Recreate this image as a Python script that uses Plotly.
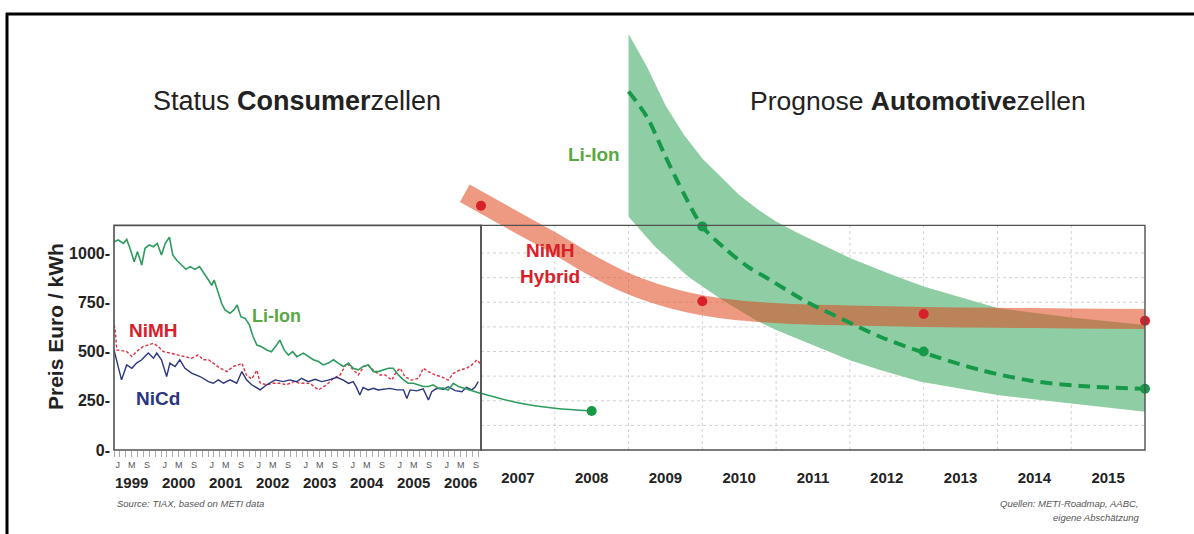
import plotly.graph_objects as go

W, H = 1194, 534          # target picture size
H_FIG = 543               # page height that the photograph squeezes into 534 rows

# ------------------------------------------------------------------ data
# Left panel: consumer cells, price Euro/kWh (decimal years)
years_left = [1999, 2000, 2001, 2002, 2003, 2004, 2005, 2006]
month_labels = ["J", "M", "S"]

liion_t = [1999.00, 1999.09, 1999.20, 1999.27, 1999.34, 1999.43, 1999.50, 1999.59, 1999.66, 1999.75, 1999.84, 1999.92,
           2000.01, 2000.09, 2000.18, 2000.25, 2000.33, 2000.44, 2000.53, 2000.62, 2000.72, 2000.82, 2000.90,
           2001.01, 2001.08, 2001.13, 2001.20, 2001.29, 2001.36, 2001.47, 2001.55, 2001.62, 2001.70, 2001.79, 2001.88, 2001.96,
           2002.04, 2002.14, 2002.25, 2002.35, 2002.46, 2002.53, 2002.62, 2002.71, 2002.80, 2002.89,
           2003.03, 2003.13, 2003.24, 2003.35, 2003.45, 2003.56, 2003.67, 2003.77, 2003.88, 2003.99,
           2004.09, 2004.20, 2004.30, 2004.41, 2004.52, 2004.62, 2004.73, 2004.84, 2004.94,
           2005.05, 2005.16, 2005.26, 2005.37, 2005.48, 2005.58, 2005.69, 2005.79, 2005.90,
           2006.01, 2006.11, 2006.22, 2006.33, 2006.43, 2006.54, 2006.65, 2006.79]
liion_v = [1057, 1066, 1049, 1069, 1024, 956, 1007, 939, 1024, 1041, 1032, 1049,
           990, 1049, 1080, 990, 964, 939, 917, 931, 917, 931, 905,
           863, 836, 863, 812, 745, 711, 694, 711, 736, 677, 668, 635, 575,
           533, 524, 508, 499, 533, 558, 508, 482, 499, 474,
           492, 475, 458, 449, 432, 441, 458, 441, 424, 441,
           415, 407, 424, 432, 398, 398, 407, 415, 415,
           381, 356, 339, 339, 331, 322, 322, 331, 314,
           314, 305, 339, 322, 314, 305, 297, 288]

nimh_t = [1999.00, 1999.02, 1999.06, 1999.27, 1999.38, 1999.48, 1999.62, 1999.73, 1999.84, 1999.94,
          2000.05, 2000.19, 2000.33, 2000.51, 2000.65, 2000.79, 2000.90,
          2001.01, 2001.11, 2001.26, 2001.40, 2001.54, 2001.65, 2001.72, 2001.82, 2001.93,
          2002.04, 2002.11, 2002.25, 2002.39, 2002.53, 2002.67, 2002.82, 2002.96,
          2003.17, 2003.35, 2003.52, 2003.67, 2003.81, 2003.95, 2004.06, 2004.20, 2004.31, 2004.41,
          2004.55, 2004.66, 2004.77, 2004.91, 2005.01, 2005.09, 2005.19, 2005.33, 2005.48, 2005.58,
          2005.69, 2005.83, 2005.97, 2006.11, 2006.22, 2006.36, 2006.50, 2006.61, 2006.72, 2006.79]
nimh_v = [636, 620, 508, 500, 475, 500, 525, 534, 542, 525,
          500, 492, 483, 475, 466, 483, 458,
          458, 441, 415, 398, 424, 432, 441, 380, 360,
          405, 340, 331, 339, 339, 331, 347, 339,
          338, 305, 330, 364, 381, 440, 415, 381, 423, 431,
          398, 381, 381, 355, 398, 415, 372, 355, 364, 415,
          398, 381, 372, 355, 389, 406, 415, 431, 457, 440]

nicd_t = [1999.00, 1999.16, 1999.27, 1999.38, 1999.48, 1999.59, 1999.73, 1999.84, 1999.91,
          2000.01, 2000.12, 2000.19, 2000.30, 2000.40, 2000.51, 2000.65, 2000.83,
          2001.01, 2001.11, 2001.22, 2001.33, 2001.47, 2001.61, 2001.72, 2001.82, 2001.93,
          2002.11, 2002.25, 2002.43, 2002.60, 2002.74, 2002.89,
          2002.99, 2003.13, 2003.28, 2003.42, 2003.56, 2003.74, 2003.88, 2003.99, 2004.09, 2004.16,
          2004.23, 2004.30, 2004.41, 2004.52, 2004.62, 2004.73, 2004.87, 2005.02, 2005.16, 2005.23,
          2005.30, 2005.44, 2005.58, 2005.69, 2005.76, 2005.87, 2006.01, 2006.11, 2006.26, 2006.40,
          2006.50, 2006.61, 2006.68, 2006.75]
nicd_v = [508, 356, 432, 415, 441, 458, 492, 466, 492,
          458, 373, 441, 424, 458, 415, 390, 373,
          347, 339, 356, 339, 356, 339, 398, 356, 331,
          305, 331, 356, 347, 356, 347,
          364, 347, 359, 347, 355, 369, 355, 338, 347, 318,
          279, 318, 305, 313, 305, 308, 313, 305, 305, 262,
          305, 300, 310, 254, 296, 313, 308, 321, 301, 296,
          318, 305, 318, 347]

# Consumer Li-Ion continued to 2008
liion_ext_t = [2007.0, 2007.5, 2008.0, 2008.5]
liion_ext_v = [288, 240, 212, 198]

# Right panel: forecast automotive cells
years_right = [2007, 2008, 2009, 2010, 2011, 2012, 2013, 2014, 2015]

nimh_band_t = [2006.78, 2007.55, 2008.0, 2008.45, 2008.91, 2009.36, 2009.81, 2010.26, 2010.71,
               2011.16, 2012.0, 2013.0, 2014.0, 2015.0, 2016.0]
nimh_band_v = [1303, 1142, 1049, 948, 859, 795, 749, 719, 702, 692, 683, 675, 671, 668, 665]
nimh_pts_t = [2007.0, 2010.0, 2013.0, 2016.0]
nimh_pts_v = [1240, 755, 690, 656]

liion_up_t = [2009.0, 2009.25, 2009.5, 2009.75, 2010.0, 2010.25, 2010.5, 2010.75, 2011.0, 2011.3,
              2011.6, 2012.0, 2012.5, 2013.0, 2014.0, 2015.0, 2016.0]
liion_up_v = [2112, 1946, 1750, 1600, 1480, 1385, 1295, 1222, 1160, 1100, 1045, 975, 900, 830, 721, 672, 635]
liion_lo_t = [2009.0, 2009.36, 2009.81, 2010.27, 2010.72, 2011.0, 2011.5, 2012.0, 2012.41, 2012.96,
              2014.0, 2014.97, 2016.0]
liion_lo_v = [1184, 1032, 880, 761, 660, 609, 530, 455, 406, 347, 279, 237, 194]
liion_mid_t = [2009.0, 2009.25, 2009.5, 2009.75, 2010.0, 2010.3, 2010.6, 2010.92, 2011.41, 2011.73,
               2012.41, 2012.96, 2013.77, 2014.45, 2015.13, 2016.0]
liion_mid_v = [1820, 1690, 1490, 1300, 1135, 1025, 935, 863, 753, 694, 575, 499, 406, 352, 325, 311]
liion_pts_t = [2010.0, 2013.0, 2016.0]
liion_pts_v = [1135, 500, 311]

y_ticks = [0, 250, 500, 750, 1000]
grid_y = [125, 250, 375, 500, 625, 750, 875, 1000]

# ------------------------------------------------------------------ style
FONT = "Liberation Sans, Arial, Helvetica, sans-serif"
GREEN_LINE = "#2e9c5e"
GREEN_DARK = "#17994a"
GREEN_LABEL = "#5aa845"
RED = "#d8202c"
NAVY = "#2b3580"
TXT = "#222222"

def px(x):
    return x / W

def py(y):
    return 1 - y / H

Y_MAX = 2160
y0_px, per_unit = 450, 0.197
y_top_px = y0_px - Y_MAX * per_unit
left_x_end = 1999 + 367 / 47
x2_start = 2007 - 23 / 73.78
frame_top = 1140

fig = go.Figure()

fig.add_trace(go.Scatter(x=nimh_t, y=nimh_v, mode="lines", xaxis="x", yaxis="y",
                         line=dict(color="#e23040", width=1.4, dash="3px,2px"), name="NiMH"))
fig.add_trace(go.Scatter(x=nicd_t, y=nicd_v, mode="lines", xaxis="x", yaxis="y",
                         line=dict(color=NAVY, width=1.4), name="NiCd"))
fig.add_trace(go.Scatter(x=liion_t, y=liion_v, mode="lines", xaxis="x", yaxis="y",
                         line=dict(color=GREEN_LINE, width=1.6), name="Li-Ion"))

fig.add_trace(go.Scatter(x=liion_up_t + liion_lo_t[::-1], y=liion_up_v + liion_lo_v[::-1],
                         mode="lines", fill="toself", fillcolor="rgb(143,206,165)",
                         line=dict(width=0), xaxis="x2", yaxis="y", hoverinfo="skip"))
fig.add_trace(go.Scatter(x=nimh_band_t, y=nimh_band_v, mode="lines", xaxis="x2", yaxis="y",
                         line=dict(color="rgba(224,70,28,0.55)", width=20, shape="spline", smoothing=0.8),
                         hoverinfo="skip"))
fig.add_trace(go.Scatter(x=liion_ext_t, y=liion_ext_v, mode="lines", xaxis="x2", yaxis="y",
                         line=dict(color=GREEN_LINE, width=1.4, shape="spline")))
fig.add_trace(go.Scatter(x=liion_ext_t[-1:], y=liion_ext_v[-1:], mode="markers", xaxis="x2", yaxis="y",
                         marker=dict(color=GREEN_DARK, size=10), cliponaxis=False))
fig.add_trace(go.Scatter(x=liion_mid_t, y=liion_mid_v, mode="lines", xaxis="x2", yaxis="y",
                         line=dict(color=GREEN_DARK, width=4, dash="12px,7px", shape="spline", smoothing=0.9)))
fig.add_trace(go.Scatter(x=liion_pts_t, y=liion_pts_v, mode="markers", xaxis="x2", yaxis="y",
                         marker=dict(color=GREEN_DARK, size=10), cliponaxis=False))
fig.add_trace(go.Scatter(x=nimh_pts_t, y=nimh_pts_v, mode="markers", xaxis="x2", yaxis="y",
                         marker=dict(color=RED, size=10), cliponaxis=False))

# ------------------------------------------------------------------ shapes
shapes = []
for g in grid_y:
    shapes.append(dict(type="line", xref="x2", yref="y", x0=2007, x1=2016, y0=g, y1=g,
                       line=dict(color="#d2d2d2", width=1, dash="dot"), layer="below"))
for yr in years_right[1:]:
    shapes.append(dict(type="line", xref="x2", yref="y", x0=yr, x1=yr, y0=0, y1=frame_top,
                       line=dict(color="#d2d2d2", width=1, dash="dot"), layer="below"))
top_frac = py(y0_px - frame_top * per_unit)
shapes.append(dict(type="rect", xref="paper", yref="paper", x0=px(114), x1=px(481),
                   y0=py(450), y1=top_frac, line=dict(color="#505050", width=1.6)))
shapes.append(dict(type="rect", xref="paper", yref="paper", x0=px(481), x1=px(1145),
                   y0=py(450), y1=top_frac, line=dict(color="#505050", width=1.4)))
shapes.append(dict(type="line", xref="paper", yref="paper", x0=px(6), x1=1, y0=py(14), y1=py(14),
                   line=dict(color="black", width=3)))
shapes.append(dict(type="line", xref="paper", yref="paper", x0=px(7), x1=px(7), y0=py(13), y1=0,
                   line=dict(color="black", width=3)))

# ------------------------------------------------------------------ annotations
ann = []
def text(x, y, s, size, color=TXT, bold=False, italic=False, xanchor="center", angle=0):
    f = dict(family=FONT, size=size, color=color)
    if bold:
        f["weight"] = "bold"
    if italic:
        f["style"] = "italic"
    ann.append(dict(x=px(x), y=py(y), xref="paper", yref="paper", text=s, showarrow=False,
                    font=f, xanchor=xanchor, yanchor="middle", textangle=angle))

text(297, 101, "Status <b>Consumer</b>zellen", 27)
text(918, 101, "Prognose <b>Automotive</b>zellen", 26.5)
text(55, 327, "Preis Euro / kWh", 21, bold=True, angle=-90)
text(276, 316, "Li-Ion", 18, color=GREEN_LABEL, bold=True)
text(153, 330, "NiMH", 19, color=RED, bold=True)
text(158, 398, "NiCd", 19, color=NAVY, bold=True)
text(594, 155, "Li-Ion", 19, color=GREEN_LABEL, bold=True)
text(550, 251, "NiMH", 19, color=RED, bold=True)
text(550, 276, "Hybrid", 19, color=RED, bold=True)
text(115, 503, "Source: TIAX, based on METI data", 9.5, color="#555", italic=True, xanchor="left")
text(1141, 503, "Quellen: METI-Roadmap, AABC,", 9.5, color="#555", italic=True, xanchor="right")
text(1141, 517, "eigene Abschätzung", 9.5, color="#555", italic=True, xanchor="right")
for yr in years_left:
    ann.append(dict(x=yr + 0.375, y=py(482), xref="x", yref="paper", text=str(yr), showarrow=False,
                    font=dict(family=FONT, size=15, color=TXT, weight="bold"),
                    xanchor="center", yanchor="middle"))

jms_vals, jms_text = [], []
for yr in years_left:
    for off, lab in zip([0.08, 0.375, 0.70], month_labels):
        jms_vals.append(yr + off)
        jms_text.append(lab)
minor_vals = [1999 + k / 8 for k in range(0, 63)]

fig.update_layout(
    width=W, height=H_FIG, autosize=False,
    margin=dict(l=0, r=0, t=0, b=0, pad=0),
    paper_bgcolor="white", plot_bgcolor="rgba(0,0,0,0)",
    showlegend=False,
    font=dict(family=FONT, color=TXT),
    shapes=shapes, annotations=ann,
    xaxis=dict(domain=[px(114), px(481)], range=[1999, left_x_end], anchor="y",
               tickmode="array", tickvals=jms_vals, ticktext=jms_text,
               tickfont=dict(family=FONT, size=9, color="#555"), ticks="",
               ticklabelstandoff=8,
               minor=dict(tickmode="array", tickvals=minor_vals, ticks="outside", ticklen=6,
                          tickcolor="#aaa", tickwidth=1),
               showgrid=False, zeroline=False, showline=False, fixedrange=True),
    xaxis2=dict(domain=[px(458), px(1145)], range=[x2_start, 2016], anchor="y",
                tickmode="array", tickvals=[y + 0.5 for y in years_right],
                ticktext=[str(y) for y in years_right],
                tickfont=dict(family=FONT, size=15, color=TXT, weight="bold"), ticks="",
                ticklabelstandoff=17,
                showgrid=False, zeroline=False, showline=False, fixedrange=True),
    yaxis=dict(domain=[py(450), py(y_top_px)], range=[0, Y_MAX], anchor="x",
               tickmode="array", tickvals=y_ticks, ticktext=[f"{v}-" for v in y_ticks],
               tickfont=dict(family=FONT, size=16, color=TXT, weight="bold"), ticks="",
               ticklabelstandoff=3,
               showgrid=False, zeroline=False, showline=False, fixedrange=True),
)

fig.write_html(
    "out.html",
    config={"displayModeBar": False, "responsive": False, "staticPlot": True},
    post_script=("document.documentElement.style.margin='0';document.documentElement.style.padding='0';"
                 "document.documentElement.style.overflow='hidden';"
                 "document.body.style.margin='0';document.body.style.padding='0';"
                 "document.body.style.overflow='hidden';"),
)
